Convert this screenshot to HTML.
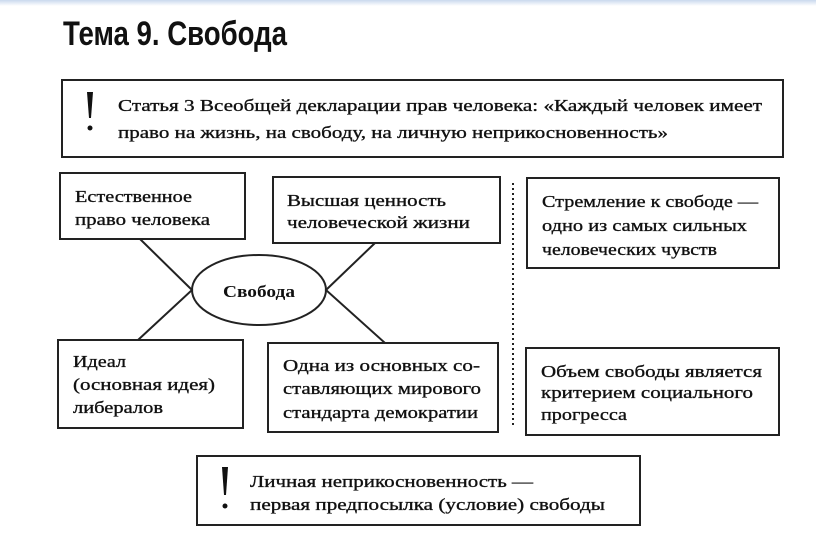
<!DOCTYPE html>
<html><head><meta charset="utf-8"><style>
html,body{margin:0;padding:0;background:#fff;width:816px;height:535px;overflow:hidden}
svg{display:block}
.t{font-family:"Liberation Serif",serif;font-size:17px;fill:#111;stroke:#111;stroke-width:0.35px}
</style></head><body>
<svg width="816" height="535" viewBox="0 0 816 535" xmlns="http://www.w3.org/2000/svg">
<defs><linearGradient id="g" x1="0" y1="0" x2="0" y2="1"><stop offset="0" stop-color="#c9d9ee"/><stop offset="1" stop-color="#fff"/></linearGradient></defs>
<rect x="0" y="0" width="816" height="6" fill="url(#g)"/>
<text x="63" y="45" font-family="Liberation Sans Narrow, Liberation Sans, sans-serif" font-weight="bold" font-size="34" textLength="224" lengthAdjust="spacingAndGlyphs" fill="#111">Тема 9. Свобода</text>
<g fill="none" stroke="#222" stroke-width="2">
<rect x="62" y="80" width="721" height="77"/>
<rect x="60" y="173" width="185" height="66"/>
<rect x="273" y="177" width="227" height="66"/>
<rect x="527" y="178" width="252" height="90"/>
<rect x="58" y="340" width="185" height="88"/>
<rect x="268" y="343" width="230" height="89"/>
<rect x="526" y="348" width="253" height="87"/>
<rect x="197" y="456" width="443" height="69"/>
<ellipse cx="259" cy="290" rx="67" ry="35"/>
<path d="M140 239 L192 290 L138 340 M375 243 L326 290 L385 343"/>
<line x1="513" y1="183" x2="513" y2="428" stroke-width="2" stroke-dasharray="2 3"/>
</g>
<g fill="#111">
<path d="M87 92 L93 92 L91 118 L89 118 Z"/><circle cx="90" cy="128" r="2.5"/>
<path d="M222 467 L228 467 L226 495 L224 495 Z"/><circle cx="225" cy="506" r="2.5"/>
</g>
<text x="223" y="297" textLength="72" lengthAdjust="spacingAndGlyphs" font-family="Liberation Serif, serif" font-weight="bold" font-size="17" fill="#111">Свобода</text>
<g class="t">
<text x="118" y="111" textLength="644" lengthAdjust="spacingAndGlyphs">Статья 3 Всеобщей декларации прав человека: «Каждый человек имеет</text>
<text x="118" y="138" textLength="550" lengthAdjust="spacingAndGlyphs">право на жизнь, на свободу, на личную неприкосновенность»</text>
<text x="75" y="202" textLength="117" lengthAdjust="spacingAndGlyphs">Естественное</text>
<text x="75" y="225" textLength="135" lengthAdjust="spacingAndGlyphs">право человека</text>
<text x="287" y="206" textLength="159" lengthAdjust="spacingAndGlyphs">Высшая ценность</text>
<text x="287" y="228" textLength="183" lengthAdjust="spacingAndGlyphs">человеческой жизни</text>
<text x="542" y="207" textLength="216" lengthAdjust="spacingAndGlyphs">Стремление к свободе —</text>
<text x="542" y="231" textLength="205" lengthAdjust="spacingAndGlyphs">одно из самых сильных</text>
<text x="542" y="255" textLength="175" lengthAdjust="spacingAndGlyphs">человеческих чувств</text>
<text x="73" y="367" textLength="53" lengthAdjust="spacingAndGlyphs">Идеал</text>
<text x="73" y="390" textLength="142" lengthAdjust="spacingAndGlyphs">(основная идея)</text>
<text x="73" y="413" textLength="90" lengthAdjust="spacingAndGlyphs">либералов</text>
<text x="283" y="371" textLength="197" lengthAdjust="spacingAndGlyphs">Одна из основных со-</text>
<text x="283" y="394" textLength="198" lengthAdjust="spacingAndGlyphs">ставляющих мирового</text>
<text x="283" y="418" textLength="195" lengthAdjust="spacingAndGlyphs">стандарта демократии</text>
<text x="541" y="377" textLength="221" lengthAdjust="spacingAndGlyphs">Объем свободы является</text>
<text x="541" y="398" textLength="212" lengthAdjust="spacingAndGlyphs">критерием социального</text>
<text x="541" y="420" textLength="86" lengthAdjust="spacingAndGlyphs">прогресса</text>
<text x="250" y="487" textLength="283" lengthAdjust="spacingAndGlyphs">Личная неприкосновенность —</text>
<text x="250" y="510" textLength="355" lengthAdjust="spacingAndGlyphs">первая предпосылка (условие) свободы</text>
</g>
</svg>
</body></html>
